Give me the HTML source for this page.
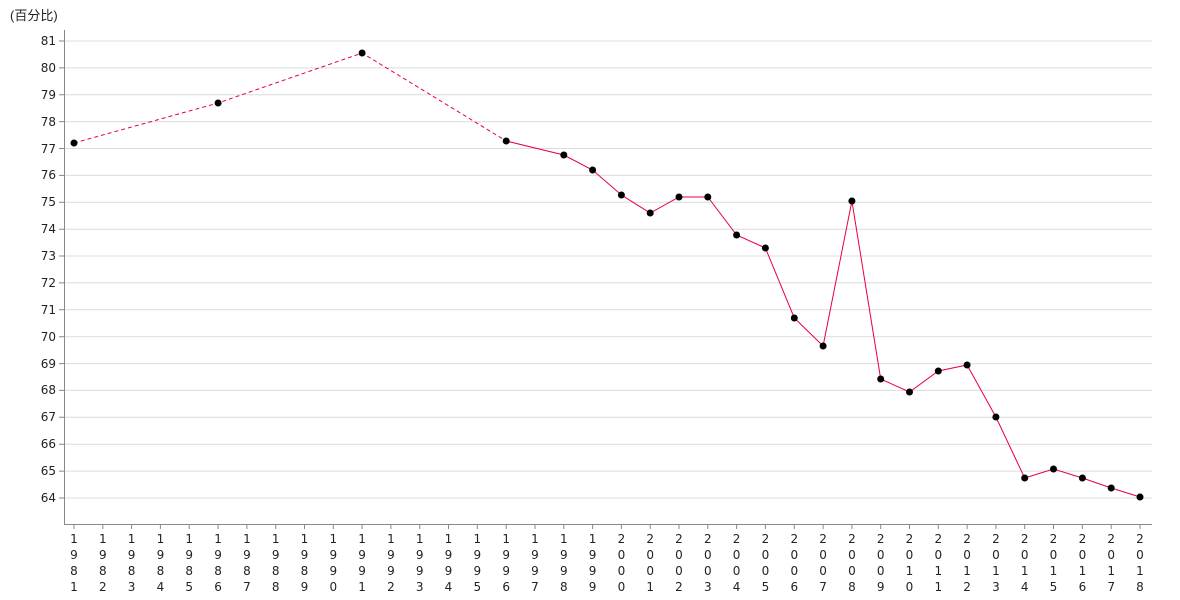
<!DOCTYPE html>
<html><head><meta charset="utf-8"><style>
html,body{margin:0;padding:0;background:#fff;}
svg{display:block;font-family:"DejaVu Sans","Liberation Sans","Noto Sans CJK SC",sans-serif;font-size:12px;fill:#222;}
</style></head><body>
<svg width="1180" height="600" viewBox="0 0 1180 600">
<text x="10" y="20" font-family="Liberation Sans, Noto Sans CJK SC, sans-serif" font-size="13">(百分比)</text>
<g stroke="#dcdcdc" stroke-width="1">
<line x1="64" x2="1152" y1="41" y2="41"/><line x1="64" x2="1152" y1="67.9" y2="67.9"/><line x1="64" x2="1152" y1="94.8" y2="94.8"/><line x1="64" x2="1152" y1="121.6" y2="121.6"/><line x1="64" x2="1152" y1="148.5" y2="148.5"/><line x1="64" x2="1152" y1="175.4" y2="175.4"/><line x1="64" x2="1152" y1="202.3" y2="202.3"/><line x1="64" x2="1152" y1="229.2" y2="229.2"/><line x1="64" x2="1152" y1="256" y2="256"/><line x1="64" x2="1152" y1="282.9" y2="282.9"/><line x1="64" x2="1152" y1="309.8" y2="309.8"/><line x1="64" x2="1152" y1="336.7" y2="336.7"/><line x1="64" x2="1152" y1="363.6" y2="363.6"/><line x1="64" x2="1152" y1="390.4" y2="390.4"/><line x1="64" x2="1152" y1="417.3" y2="417.3"/><line x1="64" x2="1152" y1="444.2" y2="444.2"/><line x1="64" x2="1152" y1="471.1" y2="471.1"/><line x1="64" x2="1152" y1="498" y2="498"/>
</g>
<g stroke="#888" stroke-width="1">
<line x1="64.5" x2="64.5" y1="30" y2="524"/><line x1="64" x2="1152" y1="524.5" y2="524.5"/>
</g>
<g text-anchor="end">
<text x="56" y="45">81</text><text x="56" y="72">80</text><text x="56" y="99">79</text><text x="56" y="126">78</text><text x="56" y="153">77</text><text x="56" y="179">76</text><text x="56" y="206">75</text><text x="56" y="233">74</text><text x="56" y="260">73</text><text x="56" y="287">72</text><text x="56" y="314">71</text><text x="56" y="341">70</text><text x="56" y="368">69</text><text x="56" y="394">68</text><text x="56" y="421">67</text><text x="56" y="448">66</text><text x="56" y="475">65</text><text x="56" y="502">64</text>
</g>
<path stroke="#888" d="M59 41H64M59 67.9H64M59 94.8H64M59 121.6H64M59 148.5H64M59 175.4H64M59 202.3H64M59 229.2H64M59 256H64M59 282.9H64M59 309.8H64M59 336.7H64M59 363.6H64M59 390.4H64M59 417.3H64M59 444.2H64M59 471.1H64M59 498H64"/>
<path stroke="#888" d="M74 524v5M102.8 524v5M131.6 524v5M160.4 524v5M189.2 524v5M218.1 524v5M246.9 524v5M275.7 524v5M304.5 524v5M333.3 524v5M362.1 524v5M390.9 524v5M419.7 524v5M448.5 524v5M477.3 524v5M506.2 524v5M535 524v5M563.8 524v5M592.6 524v5M621.4 524v5M650.2 524v5M679 524v5M707.8 524v5M736.6 524v5M765.4 524v5M794.3 524v5M823.1 524v5M851.9 524v5M880.7 524v5M909.5 524v5M938.3 524v5M967.1 524v5M995.9 524v5M1024.7 524v5M1053.5 524v5M1082.4 524v5M1111.2 524v5M1140 524v5"/>
<g text-anchor="middle">
<text x="74" y="543"><tspan x="74">1</tspan><tspan x="74" dy="16">9</tspan><tspan x="74" dy="16">8</tspan><tspan x="74" dy="16">1</tspan></text>
<text x="102.8" y="543"><tspan x="102.8">1</tspan><tspan x="102.8" dy="16">9</tspan><tspan x="102.8" dy="16">8</tspan><tspan x="102.8" dy="16">2</tspan></text>
<text y="543"><tspan x="131.6">1</tspan><tspan x="131.6" dy="16">9</tspan><tspan x="131.6" dy="16">8</tspan><tspan x="131.6" dy="16">3</tspan></text>
<text y="543"><tspan x="160.4">1</tspan><tspan x="160.4" dy="16">9</tspan><tspan x="160.4" dy="16">8</tspan><tspan x="160.4" dy="16">4</tspan></text>
<text y="543"><tspan x="189.2">1</tspan><tspan x="189.2" dy="16">9</tspan><tspan x="189.2" dy="16">8</tspan><tspan x="189.2" dy="16">5</tspan></text>
<text y="543"><tspan x="218.1">1</tspan><tspan x="218.1" dy="16">9</tspan><tspan x="218.1" dy="16">8</tspan><tspan x="218.1" dy="16">6</tspan></text>
<text y="543"><tspan x="246.9">1</tspan><tspan x="246.9" dy="16">9</tspan><tspan x="246.9" dy="16">8</tspan><tspan x="246.9" dy="16">7</tspan></text>
<text y="543"><tspan x="275.7">1</tspan><tspan x="275.7" dy="16">9</tspan><tspan x="275.7" dy="16">8</tspan><tspan x="275.7" dy="16">8</tspan></text>
<text y="543"><tspan x="304.5">1</tspan><tspan x="304.5" dy="16">9</tspan><tspan x="304.5" dy="16">8</tspan><tspan x="304.5" dy="16">9</tspan></text>
<text y="543"><tspan x="333.3">1</tspan><tspan x="333.3" dy="16">9</tspan><tspan x="333.3" dy="16">9</tspan><tspan x="333.3" dy="16">0</tspan></text>
<text y="543"><tspan x="362.1">1</tspan><tspan x="362.1" dy="16">9</tspan><tspan x="362.1" dy="16">9</tspan><tspan x="362.1" dy="16">1</tspan></text>
<text y="543"><tspan x="390.9">1</tspan><tspan x="390.9" dy="16">9</tspan><tspan x="390.9" dy="16">9</tspan><tspan x="390.9" dy="16">2</tspan></text>
<text y="543"><tspan x="419.7">1</tspan><tspan x="419.7" dy="16">9</tspan><tspan x="419.7" dy="16">9</tspan><tspan x="419.7" dy="16">3</tspan></text>
<text y="543"><tspan x="448.5">1</tspan><tspan x="448.5" dy="16">9</tspan><tspan x="448.5" dy="16">9</tspan><tspan x="448.5" dy="16">4</tspan></text>
<text y="543"><tspan x="477.3">1</tspan><tspan x="477.3" dy="16">9</tspan><tspan x="477.3" dy="16">9</tspan><tspan x="477.3" dy="16">5</tspan></text>
<text y="543"><tspan x="506.2">1</tspan><tspan x="506.2" dy="16">9</tspan><tspan x="506.2" dy="16">9</tspan><tspan x="506.2" dy="16">6</tspan></text>
<text y="543"><tspan x="535">1</tspan><tspan x="535" dy="16">9</tspan><tspan x="535" dy="16">9</tspan><tspan x="535" dy="16">7</tspan></text>
<text y="543"><tspan x="563.8">1</tspan><tspan x="563.8" dy="16">9</tspan><tspan x="563.8" dy="16">9</tspan><tspan x="563.8" dy="16">8</tspan></text>
<text y="543"><tspan x="592.6">1</tspan><tspan x="592.6" dy="16">9</tspan><tspan x="592.6" dy="16">9</tspan><tspan x="592.6" dy="16">9</tspan></text>
<text y="543"><tspan x="621.4">2</tspan><tspan x="621.4" dy="16">0</tspan><tspan x="621.4" dy="16">0</tspan><tspan x="621.4" dy="16">0</tspan></text>
<text y="543"><tspan x="650.2">2</tspan><tspan x="650.2" dy="16">0</tspan><tspan x="650.2" dy="16">0</tspan><tspan x="650.2" dy="16">1</tspan></text>
<text y="543"><tspan x="679">2</tspan><tspan x="679" dy="16">0</tspan><tspan x="679" dy="16">0</tspan><tspan x="679" dy="16">2</tspan></text>
<text y="543"><tspan x="707.8">2</tspan><tspan x="707.8" dy="16">0</tspan><tspan x="707.8" dy="16">0</tspan><tspan x="707.8" dy="16">3</tspan></text>
<text y="543"><tspan x="736.6">2</tspan><tspan x="736.6" dy="16">0</tspan><tspan x="736.6" dy="16">0</tspan><tspan x="736.6" dy="16">4</tspan></text>
<text y="543"><tspan x="765.4">2</tspan><tspan x="765.4" dy="16">0</tspan><tspan x="765.4" dy="16">0</tspan><tspan x="765.4" dy="16">5</tspan></text>
<text y="543"><tspan x="794.3">2</tspan><tspan x="794.3" dy="16">0</tspan><tspan x="794.3" dy="16">0</tspan><tspan x="794.3" dy="16">6</tspan></text>
<text y="543"><tspan x="823.1">2</tspan><tspan x="823.1" dy="16">0</tspan><tspan x="823.1" dy="16">0</tspan><tspan x="823.1" dy="16">7</tspan></text>
<text y="543"><tspan x="851.9">2</tspan><tspan x="851.9" dy="16">0</tspan><tspan x="851.9" dy="16">0</tspan><tspan x="851.9" dy="16">8</tspan></text>
<text y="543"><tspan x="880.7">2</tspan><tspan x="880.7" dy="16">0</tspan><tspan x="880.7" dy="16">0</tspan><tspan x="880.7" dy="16">9</tspan></text>
<text y="543"><tspan x="909.5">2</tspan><tspan x="909.5" dy="16">0</tspan><tspan x="909.5" dy="16">1</tspan><tspan x="909.5" dy="16">0</tspan></text>
<text y="543"><tspan x="938.3">2</tspan><tspan x="938.3" dy="16">0</tspan><tspan x="938.3" dy="16">1</tspan><tspan x="938.3" dy="16">1</tspan></text>
<text y="543"><tspan x="967.1">2</tspan><tspan x="967.1" dy="16">0</tspan><tspan x="967.1" dy="16">1</tspan><tspan x="967.1" dy="16">2</tspan></text>
<text y="543"><tspan x="995.9">2</tspan><tspan x="995.9" dy="16">0</tspan><tspan x="995.9" dy="16">1</tspan><tspan x="995.9" dy="16">3</tspan></text>
<text y="543"><tspan x="1024.7">2</tspan><tspan x="1024.7" dy="16">0</tspan><tspan x="1024.7" dy="16">1</tspan><tspan x="1024.7" dy="16">4</tspan></text>
<text y="543"><tspan x="1053.5">2</tspan><tspan x="1053.5" dy="16">0</tspan><tspan x="1053.5" dy="16">1</tspan><tspan x="1053.5" dy="16">5</tspan></text>
<text y="543"><tspan x="1082.4">2</tspan><tspan x="1082.4" dy="16">0</tspan><tspan x="1082.4" dy="16">1</tspan><tspan x="1082.4" dy="16">6</tspan></text>
<text y="543"><tspan x="1111.2">2</tspan><tspan x="1111.2" dy="16">0</tspan><tspan x="1111.2" dy="16">1</tspan><tspan x="1111.2" dy="16">7</tspan></text>
<text y="543"><tspan x="1140">2</tspan><tspan x="1140" dy="16">0</tspan><tspan x="1140" dy="16">1</tspan><tspan x="1140" dy="16">8</tspan></text>
</g>
<path fill="none" stroke="#e8003d" stroke-width="1" stroke-dasharray="4,3" d="M74 143L218.1 103L362.1 53L506.2 141"/>
<path fill="none" stroke="#e8003d" stroke-width="1" d="M506.2 141L563.8 155L592.6 170L621.4 195L650.2 213L679 197L707.8 197L736.6 235L765.4 248L794.3 318L823.1 346L851.9 201L880.7 379L909.5 392L938.3 371L967.1 365L995.9 417L1024.7 478L1053.5 469L1082.4 478L1111.2 488L1140 497"/>
<g fill="#000">
<circle cx="74" cy="143" r="3.5"/><circle cx="218.1" cy="103" r="3.5"/><circle cx="362.1" cy="53" r="3.5"/><circle cx="506.2" cy="141" r="3.5"/><circle cx="563.8" cy="155" r="3.5"/><circle cx="592.6" cy="170" r="3.5"/><circle cx="621.4" cy="195" r="3.5"/><circle cx="650.2" cy="213" r="3.5"/><circle cx="679" cy="197" r="3.5"/><circle cx="707.8" cy="197" r="3.5"/><circle cx="736.6" cy="235" r="3.5"/><circle cx="765.4" cy="248" r="3.5"/><circle cx="794.3" cy="318" r="3.5"/><circle cx="823.1" cy="346" r="3.5"/><circle cx="851.9" cy="201" r="3.5"/><circle cx="880.7" cy="379" r="3.5"/><circle cx="909.5" cy="392" r="3.5"/><circle cx="938.3" cy="371" r="3.5"/><circle cx="967.1" cy="365" r="3.5"/><circle cx="995.9" cy="417" r="3.5"/><circle cx="1024.7" cy="478" r="3.5"/><circle cx="1053.5" cy="469" r="3.5"/><circle cx="1082.4" cy="478" r="3.5"/><circle cx="1111.2" cy="488" r="3.5"/><circle cx="1140" cy="497" r="3.5"/>
</g>
</svg>
</body></html>
